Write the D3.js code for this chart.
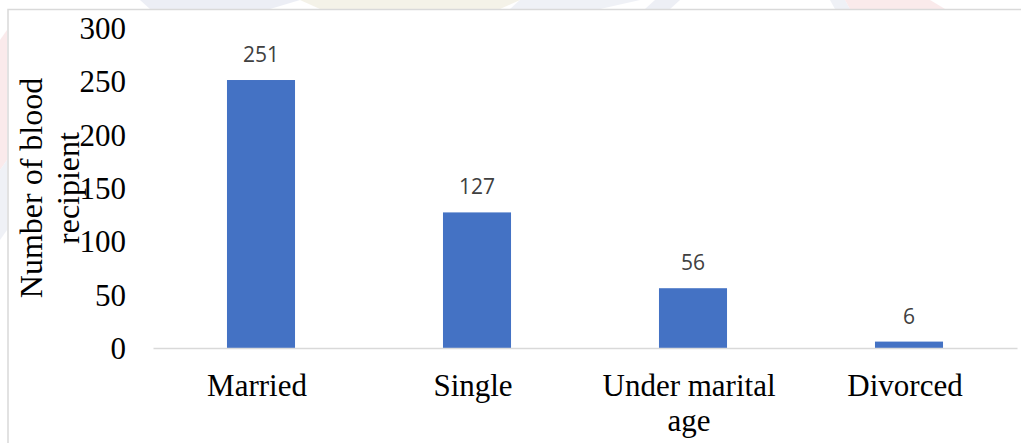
<!DOCTYPE html>
<html>
<head>
<meta charset="utf-8">
<script src="https://cdn.jsdelivr.net/npm/d3@7"></script>
<style>
  html, body { margin: 0; padding: 0; background: #ffffff; }
  svg { display: block; }
</style>
</head>
<body>
<svg id="chart" width="1021" height="443"></svg>
<script>
// Marital status of blood recipients
const categories = ["Married", "Single", "Under marital age", "Divorced"];
const categoryLines = [["Married"], ["Single"], ["Under marital", "age"], ["Divorced"]];
const recipients = [251, 127, 56, 6];
const yTicks = [0, 50, 100, 150, 200, 250, 300];
const yTitleLines = ["Number of blood", "recipient"];

const svg = d3.select("#chart");
const W = 1021, H = 443;
const plot = { left: 153, right: 1017, top: 27.7, bottom: 348 };

// faint logo shapes showing through behind the frame
const wm = svg.append("g").attr("opacity", 0.55);
wm.append("path").attr("d", "M140,0 L300,0 L270,9 L150,9 Z").attr("fill", "#dde1ee");
wm.append("path").attr("d", "M300,0 L520,0 L500,9 L320,9 Z").attr("fill", "#ece8d6");
wm.append("path").attr("d", "M520,0 L640,0 L600,9 L510,9 Z").attr("fill", "#e3e6f0");
wm.append("path").attr("d", "M655,0 L680,0 L670,9 L645,9 Z").attr("fill", "#dfe2ee");
wm.append("path").attr("d", "M830,0 L845,0 L850,9 L835,9 Z").attr("fill", "#e3e6f0");
wm.append("path").attr("d", "M845,0 L930,0 L945,9 L850,9 Z").attr("fill", "#f6d9dc");
wm.append("path").attr("d", "M0,40 L7,30 L7,160 L0,170 Z").attr("fill", "#f6d9dc");
wm.append("path").attr("d", "M0,170 L7,160 L7,230 L0,240 Z").attr("fill", "#e3e6f0");

// chart frame
svg.append("path")
  .attr("d", `M8,${H + 2} L8,9.5 L${W + 2},9.5`)
  .attr("fill", "none")
  .attr("stroke", "#d9d9d9")
  .attr("stroke-width", 1.5);

const x = d3.scaleBand()
  .domain(categories)
  .range([plot.left, plot.right])
  .paddingInner(0.685)
  .paddingOuter(0.3425);

const y = d3.scaleLinear()
  .domain([0, 300])
  .range([plot.bottom, plot.top]);

// y axis labels (no line, no ticks)
const yAxis = svg.append("g")
  .attr("transform", `translate(${plot.left},0)`)
  .call(d3.axisLeft(y).tickValues(yTicks).tickSize(0).tickPadding(27).tickFormat(d3.format("d")));
yAxis.select(".domain").remove();
yAxis.selectAll("text")
  .attr("font-family", "'Liberation Serif', 'Times New Roman', serif")
  .attr("font-size", 31)
  .attr("fill", "#000")
  .attr("dy", "0.34em");

// bars
svg.append("g").selectAll("rect")
  .data(recipients)
  .join("rect")
  .attr("x", (d, i) => x(categories[i]))
  .attr("y", d => y(d))
  .attr("width", x.bandwidth())
  .attr("height", d => y(0) - y(d))
  .attr("fill", "#4472c4");

// x axis baseline and category labels
const xAxis = svg.append("g")
  .attr("transform", `translate(0,${plot.bottom})`)
  .call(d3.axisBottom(x).tickSize(0).tickSizeOuter(0).tickFormat(""));
xAxis.select(".domain")
  .attr("stroke", "#d9d9d9")
  .attr("stroke-width", 1.5);
xAxis.selectAll(".tick text").each(function (d, i) {
  const t = d3.select(this)
    .attr("y", 0)
    .attr("dy", null)
    .attr("font-family", "'Liberation Serif', 'Times New Roman', serif")
    .attr("font-size", 31)
    .attr("fill", "#000")
    .attr("text-anchor", "middle");
  t.selectAll("tspan")
    .data(categoryLines[i])
    .join("tspan")
    .attr("x", -4)
    .attr("y", (l, j) => 48 + j * 35)
    .text(l => l);
});

// value labels
svg.append("g").selectAll("text")
  .data(recipients)
  .join("text")
  .attr("x", (d, i) => x(categories[i]) + x.bandwidth() / 2)
  .attr("y", d => y(d) - 18)
  .attr("text-anchor", "middle")
  .attr("font-family", "'Open Sans', 'Liberation Sans', sans-serif")
  .attr("font-size", 21)
  .attr("fill", "#404040")
  .text(d => d);

// y axis title, two rotated lines
const yTitle = svg.append("text")
  .attr("transform", "translate(0,188) rotate(-90)")
  .attr("text-anchor", "middle")
  .attr("font-family", "'Liberation Serif', 'Times New Roman', serif")
  .attr("font-size", 32)
  .attr("fill", "#000");
yTitle.selectAll("tspan")
  .data(yTitleLines)
  .join("tspan")
  .attr("x", 0)
  .attr("y", (l, j) => 42 + j * 37)
  .text(l => l);
</script>
</body>
</html>
